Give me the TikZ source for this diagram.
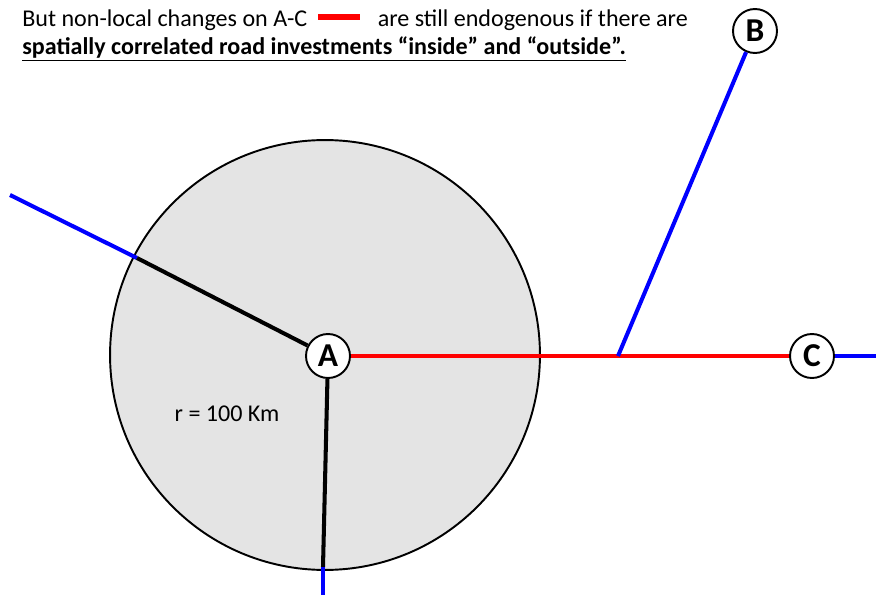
\documentclass[tikz,border=0pt]{standalone}
\usepackage{fontspec}
\setmainfont{Carlito}
\usetikzlibrary{positioning}
\definecolor{zonegray}{HTML}{E4E4E4}

\begin{document}
\begin{tikzpicture}[
    x=0.02cm, y=-0.02cm,
    % node and road styles
    stop/.style={circle, draw=black, line width=1.1pt, fill=white, minimum size=0.88cm, inner sep=0pt, font=\fontsize{19}{19}\selectfont\bfseries},
    zone/.style={circle, draw=black, line width=1.1pt, fill=zonegray, minimum size=8.6cm, inner sep=0pt},
    road/.style={line width=2.3pt},
    textstyle/.style={font=\fontsize{13.7}{16}\selectfont, text=black, align=left}
  ]
  \useasboundingbox (0,0) rectangle (876,595);

  % catchment area
  \node[zone] (zone) at (325,355) {};

  % towns
  \node[stop] (A) at (328,356) {A};
  \node[stop] (B) at (755,31) {B};
  \node[stop] (C) at (812,356) {C};

  % free ends of the roads
  \coordinate (nw) at (10,195);
  \coordinate (nwedge) at (137,258);
  \coordinate (sedge) at (323,567);
  \coordinate (s) at (323,595);
  \coordinate (junc) at (618,356);
  \coordinate (e) at (876,356);

  % roads
  \draw[road, red] (A) -- (C);
  \draw[road, blue] (B) -- (junc);
  \draw[road, blue] (C) -- (e);
  \draw[road, blue] (nw) -- (nwedge);
  \draw[road, black] (nwedge) -- (A);
  \draw[road, black] (A) -- (sedge);
  \draw[road, blue] (sedge) -- (s);

  % labels
  \node[textstyle, anchor=north west, inner sep=0pt] (title) at (22,9) {But non-local changes on A-C\hspace{0.45em}\textcolor{red}{\rule[0.26em]{1.75em}{0.24em}}\hspace{0.5em} are still endogenous if there are\\
    \underline{\textbf{spatially correlated road investments “inside” and “outside”.}}};
  \node[textstyle] (radius) at (227,414) {r = 100 Km};
\end{tikzpicture}
\end{document}
